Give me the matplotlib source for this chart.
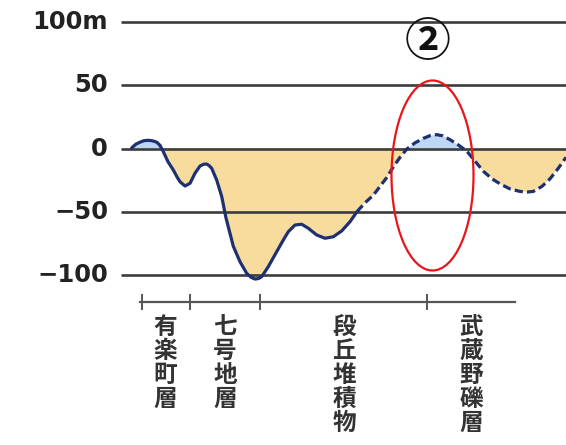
import matplotlib
matplotlib.use("Agg")
import matplotlib.pyplot as plt
import numpy as np
from matplotlib.patches import Ellipse

# ---- data ----
y_ticks = [100, 50, 0, -50, -100]
y_tick_labels = ["100m", "50", "0", "\u221250", "\u2212100"]

# profile: horizontal position, elevation (m)
solid_x = [131.7, 136, 140, 144, 148.3, 152.5, 156.7, 160, 163.3, 168, 173.3, 177, 180,
           185, 190, 195, 200, 203.5, 206.7, 209, 211.7, 216.7, 221.7, 226,
           233.3, 240, 246.7, 251, 255, 258.5, 261.7, 268.3, 276.7, 283.3,
           288.3, 295, 301.7, 308.3, 316.7, 325, 333.3, 341.7, 350, 357]
solid_y = [0.5, 3.5, 5, 6.2, 6.5, 6.1, 5, 2.5, -2.5, -10.5, -17, -22.5, -26.3,
           -29.7, -27.6, -19.6, -13.9, -12.5, -12.3, -13.5, -15.7, -25, -38, -55,
           -77.4, -89.7, -98.9, -102, -103.4, -103, -101.5, -93.6, -81.7, -72.5,
           -65.9, -60.6, -60, -63.2, -68.5, -71.1, -69.9, -65.3, -58, -50]
dash_x = [357, 365, 373.3, 380, 386.7, 393, 400, 406.7, 415, 423.3, 430, 436.7, 443,
          450, 458, 466.7, 475, 483.3, 492, 500, 510, 520, 527, 533.3, 542, 550,
          558, 566]
dash_y = [-50, -43, -37, -30, -23, -15, -7, -0.5, 4.5, 8, 10.2, 11, 10,
          7, 3, -2, -10, -18, -24, -28, -32, -34, -34.5, -34, -30, -24,
          -16, -7]

layer_bounds = [142, 190, 260, 427, 515]
layer_names = ["有楽町層", "七号地層", "段丘堆積物", "武蔵野礫層"]
layer_label_x = [165, 225, 344, 471]
marker_label = "②"

# ---- figure ----
W, H = 566, 445
fig = plt.figure(figsize=(W / 100, H / 100), dpi=100)
ax = fig.add_axes([0, 0, 1, 1])
ppm = 1.2625
zero_px = 148.5
ax.set_xlim(0, W)
ax.set_ylim((zero_px - H) / ppm, zero_px / ppm)
ax.axis("off")

all_x = np.array(solid_x + dash_x[1:])
all_y = np.array(solid_y + dash_y[1:])

beige = "#f8dc9e"
blue_fill = "#bcd8f4"
curve_col = "#1e2f72"
grid_col = "#3c3c3c"

ax.fill_between(all_x, all_y, 0, where=all_y < 0, interpolate=True,
                color=beige, lw=0, zorder=1)
ax.fill_between(all_x, all_y, 0, where=all_y > 0, interpolate=True,
                color=blue_fill, lw=0, zorder=1)

for v, lab in zip(y_ticks, y_tick_labels):
    ax.plot([121, W], [v, v], color=grid_col, lw=1.9, zorder=2,
            solid_capstyle="butt")
    ax.text(108, v, lab, ha="right", va="center", fontsize=17.5,
            fontweight="bold", color="#222222", family="DejaVu Sans")

ax.plot(solid_x, solid_y, color=curve_col, lw=2.3, zorder=3,
        solid_joinstyle="round", solid_capstyle="round")
ax.plot(dash_x, dash_y, color=curve_col, lw=2.3, zorder=3,
        dashes=(2.6, 1.3), dash_joinstyle="round")

# layer axis
axis_y = (zero_px - 301.5) / ppm
ax.plot([layer_bounds[0] - 2, layer_bounds[-1]], [axis_y, axis_y],
        color="#555555", lw=1.6, zorder=2)
tick_h = 7 / ppm
for b in layer_bounds[:-1]:
    ax.plot([b, b], [axis_y - tick_h, axis_y + tick_h], color="#555555",
            lw=1.4, zorder=2)

top_y = (zero_px - 315) / ppm
for lx, name in zip(layer_label_x, layer_names):
    ax.text(lx, top_y, "\n".join(name), ha="center", va="top", fontsize=17,
            family=["Noto Sans CJK JP", "DejaVu Sans"], fontweight="bold",
            color="#333333", linespacing=1.0)

# annotation
ell = Ellipse((432.5, (zero_px - 175.5) / ppm), 82, 190 / ppm, fill=False,
              edgecolor="#e8151b", lw=1.6, zorder=4)
ax.add_patch(ell)
ax.text(428, (zero_px - 43) / ppm, marker_label, ha="center", va="center",
        fontsize=33, family=["Noto Sans CJK JP", "DejaVu Sans"],
        fontweight="bold", color="#111111", zorder=4)

fig.savefig("out.png", dpi=100, facecolor="white")
